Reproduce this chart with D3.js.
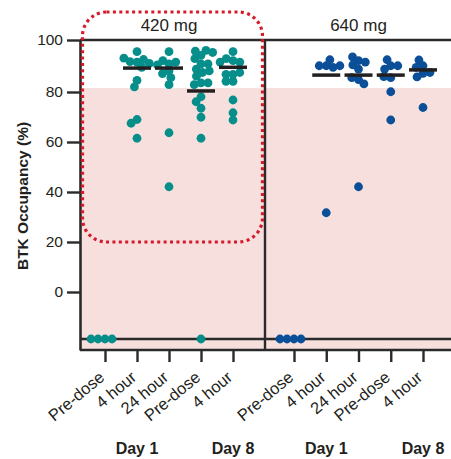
<!DOCTYPE html>
<html>
<head>
<meta charset="utf-8">
<script src="https://cdn.jsdelivr.net/npm/d3@7"></script>
<style>
  body { margin: 0; background: #fff; }
  text { font-family: "Liberation Sans", Arial, sans-serif; fill: #231f20; }
</style>
</head>
<body>
<div id="wrapper"></div>
<script>
// timepoints on the x axis (same for both doses)
const timeKeys = ["d1pre", "d1h4", "d1h24", "d8pre", "d8h4"];
const timeLabels = ["Pre-dose", "4 hour", "24 hour", "Pre-dose", "4 hour"];
const dayLabels = [["d1h4", "Day 1"], ["d8h4", "Day 8"]];
const doses = ["420 mg", "640 mg"];
const yTicks = [0, 20, 40, 60, 80, 100];
const blqValue = -18.8;     // row for samples below quantification (null below)
const shadeTop = 81.5;      // pink band below this occupancy

// BTK occupancy (%) per subject, null = below limit of quantification
const occ420 = [
    [null, null, null, null],
    [91.5, 91.7, 92.5, 95.5, 93, 91, 89.5, 84.5, 82, 69, 67.5, 61.5],
    [90.8, 92.1, 95.5, 91.5, 90.4, 88.1, 87.1, 85.5, 82.8, 63.7, 42.1],
    [94.1, 95.7, 96, 95.2, 92.8, 90.8, 90.8, 88.8, 87.5, 88.1, 86.1, 83.5, 82.8, 83.5, 78.1, 76.1, 73.5, 69.9, 61.5, null],
    [92.1, 92.8, 95.5, 91.5, 91.5, 86.8, 86.8, 87.5, 84.1, 84.1, 76.8, 71.7, 68.8]
];
const occ640 = [
    [null, null, null, null],
    [90.1, 90.1, 92.4, 89.5, 90.1, 31.7],
    [84.8, 88.8, 92.1, 93.5, 91.5, 85.5, 83.1, 90.4, 42.1],
    [85.5, 90.1, 92.4, 88.8, 90.1, 85.9, 80.1, 68.8],
    [87.2, 90.1, 92.3, 89.5, 85.8, 87.5, 73.8]
];
const median420 = [null, 89.2, 89.2, 80.4, 89.5];
const median640 = [null, 86.5, 86.5, 86.5, 88.5];

function drawChart() {
    const dimensions = { width: 451, height: 459, left: 80, top: 40, bottom: 350, divider: 265 };

    const wrapper = d3.select("#wrapper")
        .append("svg")
        .attr("width", dimensions.width)
        .attr("height", dimensions.height);

    const yScale = d3.scaleLinear()
        .domain([-23.2, 80, 100])
        .range([dimensions.bottom, 92, dimensions.top]);

    const panels = [
        { dose: doses[0], data: occ420, medians: median420, color: "#068e8b",
          x0: dimensions.left, x1: dimensions.divider, inset: [25, 32] },
        { dose: doses[1], data: occ640, medians: median640, color: "#0a4f97",
          x0: dimensions.divider, x1: dimensions.width, inset: [29, 28] }
    ];
    panels.forEach(p => {
        p.x = d3.scalePoint().domain(timeKeys).range([p.x0 + p.inset[0], p.x1 - p.inset[1]]);
    });

    // pink band
    wrapper.append("rect")
        .attr("x", dimensions.left)
        .attr("y", yScale(shadeTop))
        .attr("width", dimensions.width - dimensions.left)
        .attr("height", dimensions.bottom - yScale(shadeTop))
        .attr("fill", "#f7dfdd");

    // frame lines
    const frameColor = "#2b2a2a";
    const hLines = [dimensions.top, yScale(blqValue), dimensions.bottom];
    hLines.forEach(y => {
        wrapper.append("line")
            .attr("x1", dimensions.left).attr("x2", dimensions.width)
            .attr("y1", y).attr("y2", y)
            .attr("stroke", frameColor).attr("stroke-width", 2.4);
    });
    wrapper.append("line")
        .attr("x1", dimensions.divider).attr("x2", dimensions.divider)
        .attr("y1", dimensions.top).attr("y2", dimensions.bottom)
        .attr("stroke", frameColor).attr("stroke-width", 2.4);

    // y axis
    const yAxis = wrapper.append("g")
        .attr("transform", `translate(${dimensions.left}, 0)`)
        .call(d3.axisLeft(yScale).tickValues(yTicks).tickSize(13).tickSizeOuter(0).tickPadding(4));
    yAxis.select(".domain").attr("stroke", frameColor).attr("stroke-width", 2.6);
    yAxis.selectAll(".tick line").attr("stroke", frameColor).attr("stroke-width", 2.4);
    yAxis.selectAll(".tick text")
        .attr("font-size", "15.5px")
        .style("font-family", "'Liberation Sans', Arial, sans-serif")
        .attr("fill", "#231f20");

    wrapper.append("text")
        .attr("transform", `translate(28, 196) rotate(-90)`)
        .attr("text-anchor", "middle")
        .attr("font-size", "15.5px")
        .attr("font-weight", "bold")
        .text("BTK Occupancy (%)");

    // simple beeswarm: place each point as close to the centre as it can go
    function swarm(values, minDist) {
        const placed = [];
        values.forEach(v => {
            const y = yScale(v == null ? blqValue : v);
            const candidates = [0];
            placed.forEach(p => {
                const dy = Math.abs(p.y - y);
                if (dy < minDist) {
                    const dx = Math.sqrt(minDist * minDist - dy * dy);
                    candidates.push(p.off - dx, p.off + dx);
                }
            });
            candidates.sort((a, b) => Math.abs(a) - Math.abs(b));
            const off = candidates.find(c => placed.every(p => Math.hypot(p.off - c, p.y - y) >= minDist - 1e-6));
            placed.push({ y, off });
        });
        return placed;
    }

    panels.forEach(p => {
        const g = wrapper.append("g");

        // x axis ticks and labels
        const xAxis = g.append("g")
            .attr("transform", `translate(0, ${dimensions.bottom})`)
            .call(d3.axisBottom(p.x).tickSize(12).tickSizeOuter(0)
                .tickFormat((d, i) => timeLabels[i]));
        xAxis.select(".domain").remove();
        xAxis.selectAll(".tick line").attr("stroke", frameColor).attr("stroke-width", 2.4);
        xAxis.selectAll(".tick text")
            .attr("x", 0).attr("y", 0).attr("dy", 0)
            .attr("text-anchor", "end")
            .attr("transform", "translate(0, 29) rotate(-40)")
            .attr("font-size", "16.5px")
            .style("font-family", "'Liberation Sans', Arial, sans-serif")
            .attr("fill", "#231f20");

        dayLabels.forEach(([key, label]) => {
            g.append("text")
                .attr("x", p.x(key))
                .attr("y", 454)
                .attr("text-anchor", "middle")
                .attr("font-size", "16px")
                .attr("font-weight", "bold")
                .text(label);
        });

        // dose title
        g.append("text")
            .attr("x", p.x("d1h24"))
            .attr("y", 31)
            .attr("text-anchor", "middle")
            .attr("font-size", "17px")
            .text(p.dose);

        // dots
        p.data.forEach((values, i) => {
            const cx = p.x(timeKeys[i]);
            g.selectAll(null)
                .data(swarm(values, 7))
                .enter()
                .append("circle")
                .attr("cx", d => cx + d.off)
                .attr("cy", d => d.y)
                .attr("r", 4.4)
                .attr("fill", p.color);
        });

        // median bars
        p.medians.forEach((m, i) => {
            if (m == null) return;
            const cx = p.x(timeKeys[i]);
            g.append("line")
                .attr("x1", cx - 14).attr("x2", cx + 14)
                .attr("y1", yScale(m)).attr("y2", yScale(m))
                .attr("stroke", "#231f20")
                .attr("stroke-width", 3.5);
        });
    });

    // red dotted highlight around the 420 mg panel
    wrapper.append("rect")
        .attr("x", 82.5)
        .attr("y", 12)
        .attr("width", 180)
        .attr("height", 230)
        .attr("rx", 24)
        .attr("fill", "none")
        .attr("stroke", "#d61a2b")
        .attr("stroke-width", 3.2)
        .attr("stroke-dasharray", "3 3.4");
}

drawChart();
</script>
</body>
</html>
